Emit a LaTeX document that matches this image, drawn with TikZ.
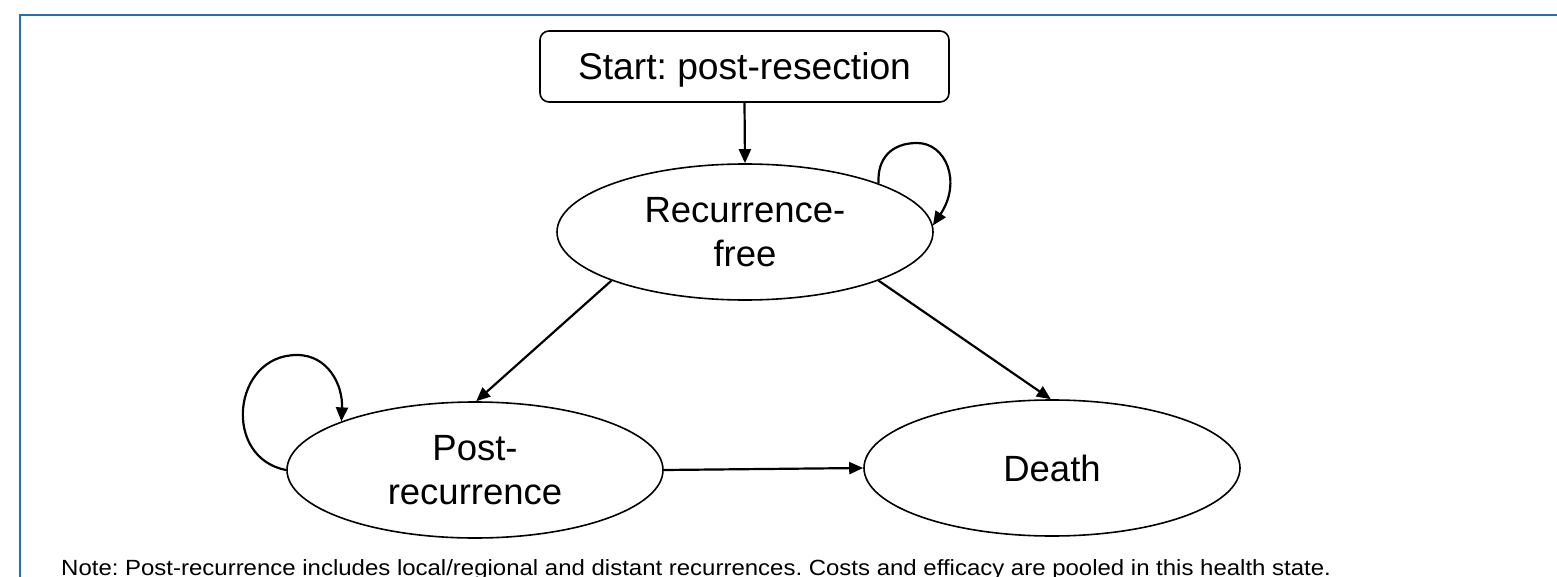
\documentclass[tikz,border=0pt]{standalone}
\usepackage{fontspec}
\setmainfont{Liberation Sans}
\newfontfamily\notefont[FakeStretch=1.09]{Liberation Sans}
\usetikzlibrary{shapes.geometric,arrows.meta}
\definecolor{framecol}{RGB}{35,110,180}
\tikzset{
  state/.style={ellipse, draw, line width=1.6pt, minimum width=376pt, minimum height=136pt, inner sep=0pt, align=center, font=\fontsize{36.5}{44.5}\selectfont},
  startbox/.style={rectangle, rounded corners=9pt, draw, line width=1.6pt, minimum width=409pt, minimum height=71pt, inner sep=0pt, text depth=0pt, font=\fontsize{37.2}{44}\selectfont},
  arr/.style={line width=2.2pt, -{Triangle[length=14pt,width=12pt]}},
  frame/.style={framecol, line width=2pt},
  notetext/.style={font=\notefont\fontsize{22}{26}\selectfont, inner sep=0pt, anchor=base west}
}
\begin{document}
\frenchspacing
\begin{tikzpicture}[x=1pt,y=-1pt]
\useasboundingbox (0,0) rectangle (1557,577);
\draw[frame] (20,580) -- (20,15) -- (1560,15);
\node[startbox] (start) at (744.5,66.5) {Start: post-resection};
\node[state] (rf) at (745,232) {Recurrence-\\free};
\node[state] (pr) at (475,470) {Post-\\recurrence};
\node[state] (death) at (1052,468) {Death};
\draw[arr] (start.south) -- (rf.north);
\draw[arr] (rf.200) -- (pr.89);
\draw[arr] (rf.-20) -- (death.91);
\draw[arr] (pr.east) -- (death.west);
\draw[arr] (rf.20) .. controls (877,158) and (892,143) .. (917,143) .. controls (946,143) and (962,182) .. (rf.2);
\draw[arr] (pr.west) .. controls (222,458) and (232,355) .. (297,355) .. controls (328,355) and (343,385) .. (pr.160);
\node[notetext] (note) at (61,575) {Note: Post-recurrence includes local/regional and distant recurrences. Costs and efficacy are pooled in this health state.};
\end{tikzpicture}
\end{document}
